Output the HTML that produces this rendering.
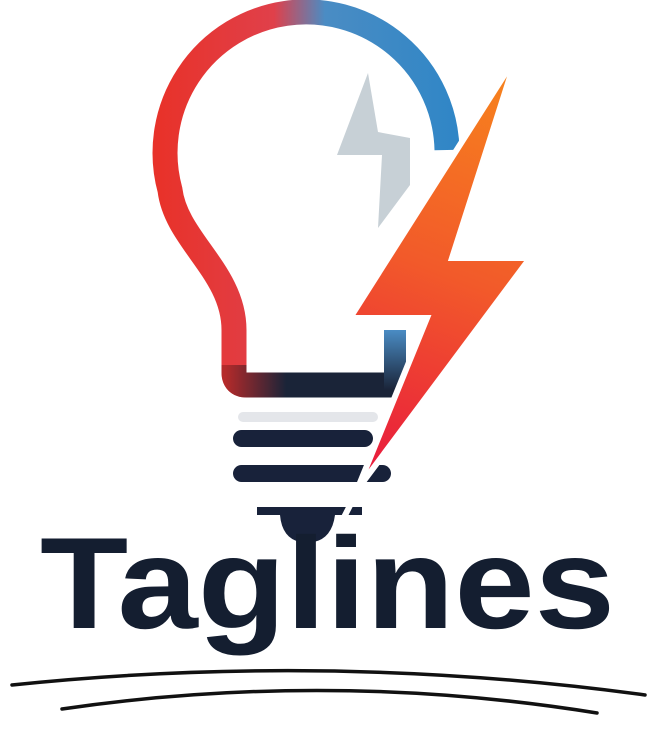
<!DOCTYPE html>
<html><head><meta charset="utf-8"><style>
html,body{margin:0;padding:0;background:#fff;width:656px;height:732px;overflow:hidden}
svg{display:block}
</style></head><body>
<svg width="656" height="732" viewBox="0 0 656 732">
<defs>
<linearGradient id="arcG" x1="160" y1="0" x2="460" y2="0" gradientUnits="userSpaceOnUse">
<stop offset="0" stop-color="#e8322a"/><stop offset="0.38" stop-color="#e0404a"/><stop offset="0.55" stop-color="#4a8cc4"/><stop offset="1" stop-color="#2f86c6"/></linearGradient>
<linearGradient id="botG" x1="225" y1="0" x2="400" y2="0" gradientUnits="userSpaceOnUse">
<stop offset="0" stop-color="#b52a2a"/><stop offset="0.35" stop-color="#1a2438"/><stop offset="1" stop-color="#1a2438"/></linearGradient>
<linearGradient id="stubG" x1="0" y1="330" x2="0" y2="390" gradientUnits="userSpaceOnUse">
<stop offset="0" stop-color="#4a8cc4"/><stop offset="1" stop-color="#1a2438"/></linearGradient>
<linearGradient id="boltG" x1="520" y1="60" x2="360" y2="480" gradientUnits="userSpaceOnUse">
<stop offset="0" stop-color="#f7861c"/><stop offset="0.5" stop-color="#f25a2a"/><stop offset="1" stop-color="#e8183e"/></linearGradient>
</defs>
<path d="M 447,150 A 141 141 0 1 0 170,190 C 176,240 234,272 234,330 L 234,372 Q 234,385 247,385" fill="none" stroke="url(#arcG)" stroke-width="25"/>
<path d="M 234,365 L 234,372 Q 234,385 247,385 L 398,385" fill="none" stroke="url(#botG)" stroke-width="25"/>
<line x1="395" y1="330" x2="395" y2="390" stroke="url(#stubG)" stroke-width="22"/>
<rect x="238" y="412" width="140" height="10" rx="5" fill="#e4e6ea"/>
<rect x="233" y="430" width="140" height="17" rx="8.5" fill="#18223a"/>
<rect x="233" y="465" width="158" height="17" rx="8.5" fill="#18223a"/>
<path d="M 257,507 L 362,507 L 362,515 L 335,515 Q 332,538 314,542 L 300,542 Q 282,538 280,515 L 257,515 Z" fill="#18223a"/>
<polygon points="368,73 337,155 382,155 378,228 410,185 410,138 378,132" fill="#c7d0d6"/>
<line x1="368" y1="470" x2="335" y2="535" stroke="#fff" stroke-width="6"/>
<polygon points="517,55 350,318 427,318 357,490 530,258 452,258" fill="url(#boltG)" stroke="#fff" stroke-width="6" stroke-linejoin="miter"/>
<text x="40" y="628" textLength="575" lengthAdjust="spacingAndGlyphs" font-family="'Liberation Sans', sans-serif" font-weight="bold" font-size="130" fill="#141e30">Taglines</text>
<path d="M 12,685 Q 330,652 645,695" fill="none" stroke="#111" stroke-width="3.5" stroke-linecap="round"/>
<path d="M 62,709 Q 330,670 597,713" fill="none" stroke="#111" stroke-width="3.5" stroke-linecap="round"/>
</svg>
</body></html>
